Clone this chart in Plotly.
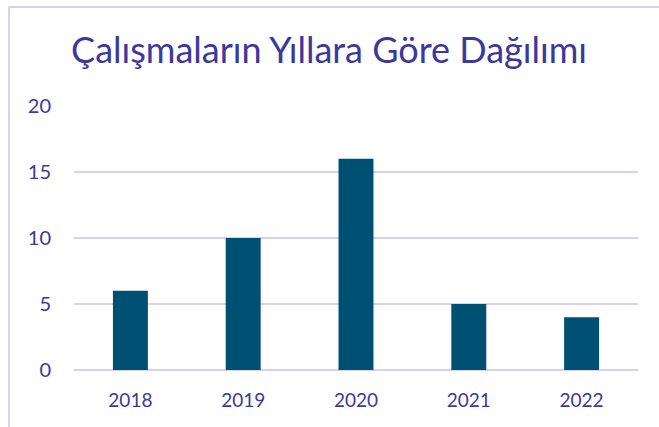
import plotly.graph_objects as go

# Number of studies per year
years = ["2018", "2019", "2020", "2021", "2022"]
counts = [6, 10, 16, 5, 4]
y_ticks = [0, 5, 10, 15, 20]

TEXT = "#3b389e"
BAR = "#005073"
GRID = "#d4d1f2"
FONT = "Lato"

W, H = 659, 427
ML, MR, MT, MB = 74, 21, 106, 57
pw, ph = W - ML - MR, H - MT - MB

fig = go.Figure(
    go.Bar(
        x=years,
        y=counts,
        marker=dict(color=BAR, line=dict(width=0)),
        width=0.31,
    )
)

# Chart frame (left and top edges)
fx = (9 - ML) / pw
fy = 1 + (MT - 7) / ph
fig.add_shape(type="line", xref="paper", yref="paper",
              x0=fx, x1=fx, y0=fy, y1=-(MB + 10) / ph,
              line=dict(color=GRID, width=2))
fig.add_shape(type="line", xref="paper", yref="paper",
              x0=fx, x1=1 + (MR + 10) / pw, y0=fy, y1=fy,
              line=dict(color=GRID, width=2))

fig.update_layout(
    width=W, height=H,
    margin=dict(l=ML, r=MR, t=MT, b=MB),
    paper_bgcolor="white", plot_bgcolor="white",
    showlegend=False,
    title=dict(
        text="Çalışmaların Yıllara Göre Dağılımı",
        x=329 / W, xanchor="center",
        y=1 - 50 / H, yanchor="middle",
        font=dict(family=FONT, size=36, color=TEXT),
    ),
    font=dict(family=FONT, color=TEXT, size=19),
    xaxis=dict(
        showgrid=False, showline=False, zeroline=False,
        ticks="", ticklabelstandoff=17,
        tickfont=dict(family=FONT, size=19, color=TEXT),
    ),
    yaxis=dict(
        range=[0, 20], tickvals=y_ticks,
        showgrid=True, gridcolor=GRID, gridwidth=2,
        zeroline=True, zerolinecolor=GRID, zerolinewidth=2,
        showline=False, ticks="", ticklabelstandoff=22,
        tickfont=dict(family=FONT, size=20, color=TEXT),
    ),
    bargap=0.69,
)

fig.write_html("out.html")
